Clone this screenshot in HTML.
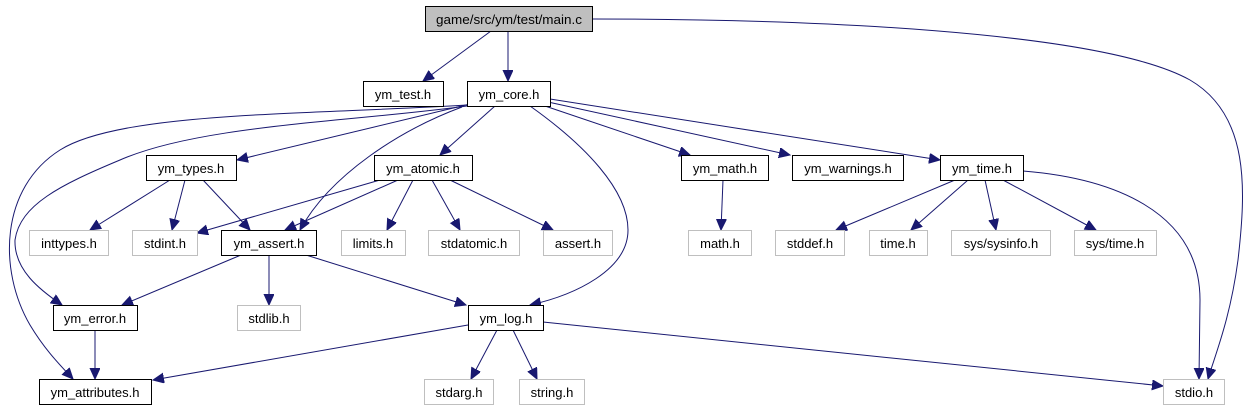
<!DOCTYPE html>
<html><head><meta charset="utf-8"><style>
html,body{margin:0;padding:0;background:#fff;}
svg{display:block;}
text{font-family:"Liberation Sans",Helvetica,sans-serif;font-size:13px;text-anchor:middle;fill:#000;}
.b{fill:#fff;stroke:#000;stroke-width:1;}
.g{fill:#fff;stroke:#bfbfbf;stroke-width:1;}
.e{fill:none;stroke:#191970;stroke-width:1;}
</style></head><body>
<svg width="1250" height="411" viewBox="0 0 1250 411" xmlns="http://www.w3.org/2000/svg">
<defs><marker id="a" markerUnits="userSpaceOnUse" markerWidth="14" markerHeight="12" refX="11" refY="5" orient="auto"><path d="M0,0 L11,5 L0,10 Z" fill="#191970" stroke="#191970"/></marker></defs>
<g class="e" marker-end="url(#a)">
<path d="M491,31 L423,81"/>
<path d="M508,31 L508,81"/>
<path d="M592,19 C800,19 1100,30 1190,80 C1250,115 1246,190 1238,260 C1230,320 1215,355 1208,379"/>
<path d="M470,104 L237,160"/>
<path d="M495,106 L440,155"/>
<path d="M462,107 C400,130 330,175 300,230"/>
<path d="M467,105 C300,115 120,112 60,150 C0,188 -2,270 30,325 C45,350 60,365 73,379"/>
<path d="M467,106 C350,122 200,125 120,160 C60,185 20,205 15,240 C14,270 40,290 62,305"/>
<path d="M530,106 C585,145 628,190 628,230 C628,270 575,295 530,305"/>
<path d="M545,106 L690,155"/>
<path d="M548,102 L790,155"/>
<path d="M550,99 L940,160"/>
<path d="M170,180 L90,230"/>
<path d="M185,180 L172,230"/>
<path d="M203,180 L250,230"/>
<path d="M380,180 L197,233"/>
<path d="M398,180 L285,230"/>
<path d="M413,180 L387,230"/>
<path d="M432,180 L460,230"/>
<path d="M450,180 L553,230"/>
<path d="M723,180 L721,230"/>
<path d="M955,180 L836,230"/>
<path d="M968,180 L911,230"/>
<path d="M985,180 L996,230"/>
<path d="M1003,180 L1096,230"/>
<path d="M1023,171 C1110,178 1200,210 1200,300 L1199,379"/>
<path d="M241,255 L122,305"/>
<path d="M269,255 L269,305"/>
<path d="M306,255 L466,305"/>
<path d="M95,330 L95,379"/>
<path d="M468,325 L153,380"/>
<path d="M497,330 L471,379"/>
<path d="M513,330 L537,379"/>
<path d="M543,322 L1163,386"/>
</g>
<rect x="425.5" y="6.5" width="167" height="25" fill="#bfbfbf" stroke="#000"/><text x="509" y="24" textLength="146" lengthAdjust="spacingAndGlyphs">game/src/ym/test/main.c</text>
<rect class="b" x="363.5" y="81.5" width="80" height="25"/><text x="403" y="99">ym_test.h</text>
<rect class="b" x="467.5" y="81.5" width="83" height="25"/><text x="509" y="99">ym_core.h</text>
<rect class="b" x="146.5" y="155.5" width="90" height="25"/><text x="191" y="173">ym_types.h</text>
<rect class="b" x="374.5" y="155.5" width="98" height="25"/><text x="423" y="173">ym_atomic.h</text>
<rect class="b" x="681.5" y="155.5" width="87" height="25"/><text x="725" y="173">ym_math.h</text>
<rect class="b" x="792.5" y="155.5" width="111" height="25"/><text x="848" y="173">ym_warnings.h</text>
<rect class="b" x="940.5" y="155.5" width="83" height="25"/><text x="982" y="173">ym_time.h</text>
<rect class="g" x="29.5" y="230.5" width="79" height="25"/><text x="69" y="248">inttypes.h</text>
<rect class="g" x="132.5" y="230.5" width="65" height="25"/><text x="165" y="248">stdint.h</text>
<rect class="b" x="221.5" y="230.5" width="95" height="25"/><text x="269" y="248">ym_assert.h</text>
<rect class="g" x="341.5" y="230.5" width="64" height="25"/><text x="373" y="248">limits.h</text>
<rect class="g" x="428.5" y="230.5" width="91" height="25"/><text x="474" y="248">stdatomic.h</text>
<rect class="g" x="543.5" y="230.5" width="69" height="25"/><text x="578" y="248">assert.h</text>
<rect class="g" x="688.5" y="230.5" width="63" height="25"/><text x="720" y="248">math.h</text>
<rect class="g" x="775.5" y="230.5" width="69" height="25"/><text x="810" y="248">stddef.h</text>
<rect class="g" x="869.5" y="230.5" width="58" height="25"/><text x="898" y="248">time.h</text>
<rect class="g" x="951.5" y="230.5" width="99" height="25"/><text x="1001" y="248">sys/sysinfo.h</text>
<rect class="g" x="1074.5" y="230.5" width="82" height="25"/><text x="1115" y="248">sys/time.h</text>
<rect class="b" x="53.5" y="305.5" width="84" height="25"/><text x="95" y="323">ym_error.h</text>
<rect class="g" x="237.5" y="305.5" width="63" height="25"/><text x="269" y="323">stdlib.h</text>
<rect class="b" x="468.5" y="305.5" width="75" height="25"/><text x="506" y="323">ym_log.h</text>
<rect class="b" x="39.5" y="379.5" width="112" height="25"/><text x="95" y="397">ym_attributes.h</text>
<rect class="g" x="424.5" y="379.5" width="69" height="25"/><text x="459" y="397">stdarg.h</text>
<rect class="g" x="519.5" y="379.5" width="65" height="25"/><text x="552" y="397">string.h</text>
<rect class="g" x="1163.5" y="379.5" width="61" height="25"/><text x="1194" y="397">stdio.h</text>
</svg>
</body></html>
